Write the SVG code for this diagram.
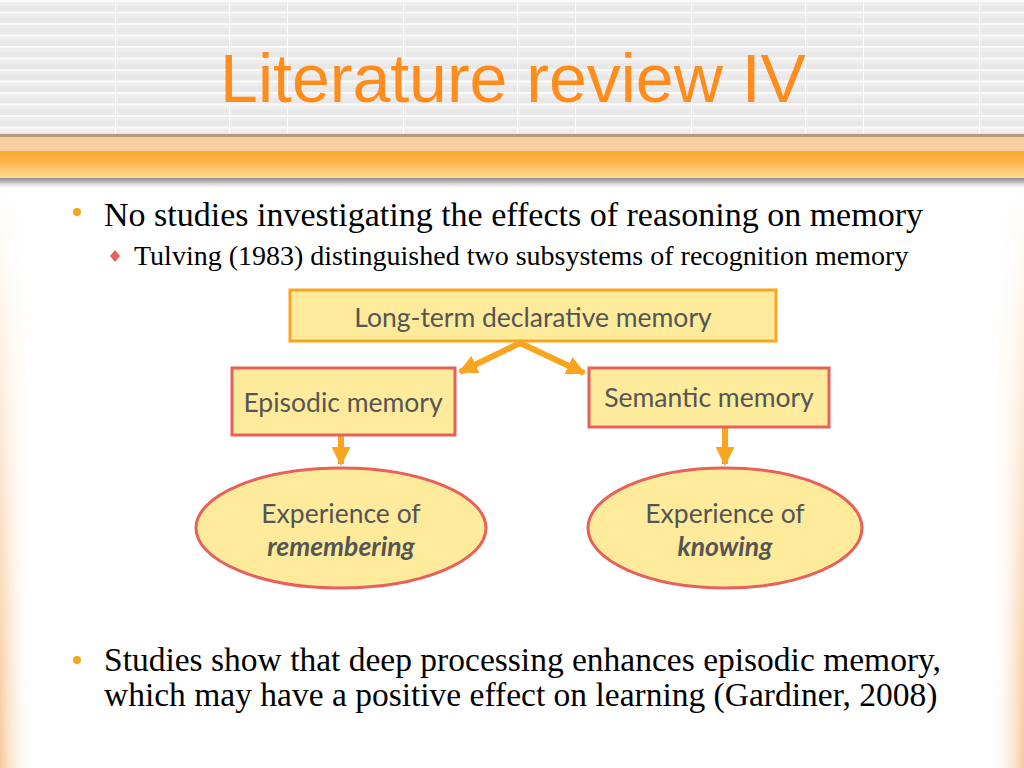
<svg xmlns="http://www.w3.org/2000/svg" width="1024" height="768" viewBox="0 0 1024 768">
<defs>
  <pattern id="stripes" x="0" y="0" width="288" height="11.5" patternUnits="userSpaceOnUse">
    <rect x="0" y="0" width="288" height="11.5" fill="#e8e8e8"/>
    <rect x="0" y="0" width="288" height="2" fill="#fbfbfb"/>
    <rect x="0" y="2" width="288" height="4" fill="#eeeeee"/>
    <rect x="115" y="0" width="1.2" height="11.5" fill="#ffffff"/>
    <rect x="229" y="0" width="1.2" height="11.5" fill="#ffffff"/>
    <rect x="287" y="0" width="1" height="11.5" fill="#ffffff"/>
  </pattern>
  <linearGradient id="band" x1="0" y1="0" x2="0" y2="1">
    <stop offset="0" stop-color="#fda830"/>
    <stop offset="0.35" stop-color="#ffb347"/>
    <stop offset="1" stop-color="#ffdb95"/>
  </linearGradient>
  <linearGradient id="shadow" x1="0" y1="0" x2="0" y2="1">
    <stop offset="0" stop-color="#8a8a8a"/>
    <stop offset="0.4" stop-color="#c8c8c8"/>
    <stop offset="1" stop-color="#ffffff" stop-opacity="0"/>
  </linearGradient>
  <linearGradient id="edgeL" x1="0" y1="0" x2="1" y2="0">
    <stop offset="0" stop-color="#f6c898"/>
    <stop offset="1" stop-color="#ffffff" stop-opacity="0"/>
  </linearGradient>
  <linearGradient id="edgeR" x1="1" y1="0" x2="0" y2="0">
    <stop offset="0" stop-color="#f6c898"/>
    <stop offset="1" stop-color="#ffffff" stop-opacity="0"/>
  </linearGradient>
  <linearGradient id="vfade" x1="0" y1="0" x2="0" y2="1">
    <stop offset="0" stop-color="#fff" stop-opacity="0"/>
    <stop offset="0.25" stop-color="#fff" stop-opacity="0.25"/>
    <stop offset="1" stop-color="#fff" stop-opacity="1"/>
  </linearGradient>
  <mask id="fadeMask" maskUnits="userSpaceOnUse" x="0" y="190" width="1024" height="578">
    <rect x="0" y="190" width="1024" height="578" fill="url(#vfade)"/>
  </mask>
  <marker id="arr" viewBox="0 0 10 10" refX="9" refY="5" markerWidth="3.2" markerHeight="3.2" orient="auto" markerUnits="strokeWidth">
    <path d="M0,0 L10,5 L0,10 Z" fill="#f9a51f"/>
  </marker>
  <style>
    .title { font-family: "Liberation Sans", Arial, sans-serif; font-size: 68px; fill: #ff8c1c; }
    .body { font-family: "Liberation Serif", "Times New Roman", serif; fill: #000; }
    .box { fill: #fdeb9b; stroke-width: 3; }
    .nlabel { font-family: Lato, "Open Sans", sans-serif; font-size: 26.5px; fill: #555555; text-anchor: middle; }
    .conn { stroke: #f9a51f; stroke-width: 6; fill: none; marker-end: url(#arr); }
  </style>
</defs>

<rect x="0" y="0" width="1024" height="768" fill="#ffffff"/>

<!-- left/right edge tints -->
<g mask="url(#fadeMask)">
  <rect x="0" y="190" width="34" height="578" fill="url(#edgeL)"/>
  <rect x="990" y="190" width="34" height="578" fill="url(#edgeR)"/>
</g>

<!-- header -->
<rect x="0" y="0" width="1024" height="136" fill="url(#stripes)"/>
<rect x="0" y="134" width="1024" height="3" fill="#b89a78"/>
<rect x="0" y="137" width="1024" height="14" fill="#f8cfa2"/>
<rect x="0" y="151" width="1024" height="27" fill="url(#band)"/>
<rect x="0" y="178" width="1024" height="12" fill="url(#shadow)"/>

<text class="title" x="513" y="102" text-anchor="middle">Literature review IV</text>

<!-- bullets -->
<circle cx="77" cy="212" r="4" fill="#f9a51f"/>
<text class="body" x="104" y="226" font-size="34">No studies investigating the effects of reasoning on memory</text>
<path d="M115,250 L120,256 L115,262 L110,256 Z" fill="#e8605a"/>
<text class="body" x="134" y="265" font-size="28">Tulving (1983) distinguished two subsystems of recognition memory</text>

<circle cx="77" cy="660" r="4" fill="#f9a51f"/>
<text class="body" x="104" y="671" font-size="33.5">Studies show that deep processing enhances episodic memory,</text>
<text class="body" x="104" y="706" font-size="33.5">which may have a positive effect on learning (Gardiner, 2008)</text>

<!-- connectors -->
<g id="connectors">
  <path class="conn" d="M520,343 L460,372"/>
  <path class="conn" d="M520,343 L584,373"/>
  <path class="conn" d="M341,436 L341,464"/>
  <path class="conn" d="M725,428 L725,464"/>
</g>

<!-- nodes -->
<g id="node-ltdm">
  <rect class="box" x="290" y="290" width="486" height="51" stroke="#f9a51f"/>
  <text class="nlabel" x="533" y="327">Long-term declarative memory</text>
</g>
<g id="node-episodic">
  <rect class="box" x="232" y="368" width="223" height="67" stroke="#e8605a"/>
  <text class="nlabel" x="343" y="412">Episodic memory</text>
</g>
<g id="node-semantic">
  <rect class="box" x="589" y="368" width="240" height="59" stroke="#e8605a"/>
  <text class="nlabel" x="709" y="407">Semantic memory</text>
</g>
<g id="node-remember">
  <ellipse class="box" cx="341" cy="528" rx="145" ry="60" stroke="#e8605a"/>
  <text class="nlabel" x="341" y="523">Experience of</text>
  <text class="nlabel" x="341" y="556" font-weight="bold" font-style="italic">remembering</text>
</g>
<g id="node-knowing">
  <ellipse class="box" cx="725" cy="528" rx="137" ry="60" stroke="#e8605a"/>
  <text class="nlabel" x="725" y="523">Experience of</text>
  <text class="nlabel" x="725" y="556" font-weight="bold" font-style="italic">knowing</text>
</g>
</svg>
